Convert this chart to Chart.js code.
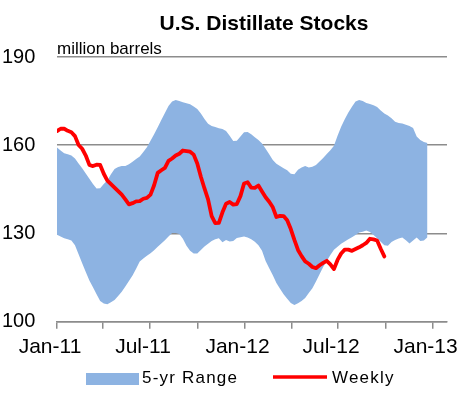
<!DOCTYPE html>
<html><head><meta charset="utf-8">
<script src="https://cdn.jsdelivr.net/npm/chart.js@4.4.0/dist/chart.umd.min.js"></script>
<style>html,body{margin:0;padding:0;background:#fff;}#wrap{width:467px;height:395px;}</style>
</head><body><div id="wrap"><canvas id="c" width="467" height="395"></canvas></div>
<script>
const chartTitle = 'U.S. Distillate Stocks';
const unitLabel = 'million barrels';
const seriesNames = ['5-yr Range', 'Weekly'];
const startDate = '2011-01-01';
const weekStep = 7;

const weeklyStocks = [
164.8,165.6,165.6,164.9,164.4,163.1,160.1,158.8,156.5,153.3,
152.9,153.4,153.3,150.3,148.0,146.8,145.6,144.4,143.2,141.6,
139.9,140.3,140.9,141.0,141.8,142.1,143.2,146.4,150.6,151.5,
152.3,154.7,155.5,156.5,157.1,158.2,158.0,157.8,156.8,153.8,
149.3,145.3,141.6,135.9,133.5,133.6,137.2,140.1,140.7,139.8,
140.0,142.7,147.0,147.4,145.6,145.5,146.3,144.3,142.3,140.8,
138.9,135.6,136.0,135.9,134.5,131.5,127.8,124.4,122.3,120.5,
119.7,118.6,118.2,119.2,120.0,120.7,119.5,117.9,121.0,123.2,
124.5,124.5,124.1,124.7,125.3,126.0,126.8,128.2,128.0,127.6,
124.8,122.2];

const rangeHigh = [
159.2,158.2,157.3,156.9,156.5,155.5,153.8,152.2,150.4,148.6,
146.8,145.3,145.4,146.8,148.0,150.1,151.9,152.6,152.9,152.9,
153.5,154.4,155.3,156.2,157.7,159.3,161.5,163.7,166.1,168.6,
171.0,173.3,174.9,175.4,175.0,174.6,174.3,173.9,173.2,172.3,
170.8,168.9,167.3,166.5,166.2,165.8,165.5,164.8,163.2,161.4,
161.5,163.0,164.4,164.5,163.7,162.7,161.8,160.6,158.8,156.9,
155.0,153.7,152.9,152.2,151.5,150.3,150.1,151.7,152.4,152.9,
152.4,152.7,153.3,154.5,155.7,157.0,158.3,159.8,163.2,166.3,
168.8,171.1,173.1,174.9,175.4,175.0,174.4,174.0,173.6,173.0,
171.8,170.8,170.1,169.2,168.0,167.6,167.4,167.0,166.5,165.9,
163.0,161.8,161.1,160.8];

const rangeLow = [
129.6,129.0,128.4,128.0,127.6,126.0,122.9,119.9,116.9,114.0,
111.7,109.3,107.0,106.2,105.9,106.6,107.4,108.7,110.2,112.0,
113.8,115.7,118.0,120.5,121.5,122.4,123.3,124.3,125.5,126.6,
127.7,129.0,130.2,130.2,129.8,128.2,125.8,124.1,123.2,123.2,
124.4,125.6,126.5,127.4,128.0,128.4,127.0,127.8,127.3,127.4,
128.5,128.7,129.0,128.6,128.0,127.2,126.0,124.1,120.6,118.2,
115.8,113.2,111.2,109.3,107.8,106.4,105.7,106.3,107.0,108.1,
109.8,111.4,113.7,116.1,118.6,120.6,122.7,124.5,125.5,126.5,
127.3,128.0,128.7,129.5,130.3,130.6,131.0,130.5,129.5,128.4,
127.2,126.0,125.8,127.1,127.8,128.3,128.6,127.7,126.6,127.6,
128.6,127.4,127.6,128.7];

const tickDates = ['2011-01-01','2011-04-01','2011-07-01','2011-10-01','2012-01-01','2012-04-01','2012-07-01','2012-10-01','2013-01-01'];
const tickLabels = ['Jan-11','','Jul-11','','Jan-12','','Jul-12','','Jan-13'];
const axisEndDate = '2013-01-29';
const yTicks = [100, 130, 160, 190];

const DAY = 86400000;
const dayOf = s => Math.round((Date.parse(s) - Date.parse(startDate)) / DAY);
const toPts = arr => arr.map((v, i) => ({x: i * weekStep, y: v}));
const tickDays = tickDates.map(dayOf);

const FONT = '"Liberation Sans", Arial, sans-serif';
const bandColor = '#8db3e2';
const lineColor = '#ff0000';
const gridColor = '#8c8c8c';

const headerPlugin = {
  id: 'header',
  afterDraw(chart) {
    const c = chart.ctx, a = chart.chartArea;
    c.save();
    c.fillStyle = '#000';
    c.font = 'bold 21px ' + FONT;
    c.textAlign = 'center';
    c.textBaseline = 'middle';
    c.fillText(chartTitle, 264, 24);
    c.font = '17px ' + FONT;
    c.textAlign = 'left';
    c.textBaseline = 'alphabetic';
    c.fillText(unitLabel, a.left, 53.5);

    // legend
    c.font = '17px ' + FONT;
    if ('letterSpacing' in c) c.letterSpacing = '1.2px';
    c.textBaseline = 'middle';
    c.fillStyle = bandColor;
    c.fillRect(86, 373, 53, 12);
    c.fillStyle = '#000';
    c.fillText(seriesNames[0], 142, 378);
    c.strokeStyle = lineColor;
    c.lineWidth = 3.5;
    c.beginPath();
    c.moveTo(273, 377);
    c.lineTo(327, 377);
    c.stroke();
    c.fillText(seriesNames[1], 332, 378);
    c.restore();
  }
};

new Chart(document.getElementById('c'), {
  type: 'line',
  data: {
    datasets: [
      {label: seriesNames[0], data: toPts(rangeHigh), fill: '+1', backgroundColor: bandColor, borderColor: bandColor, borderWidth: 0, pointRadius: 0, order: 2},
      {label: 'low', data: toPts(rangeLow), fill: false, borderWidth: 0, borderColor: bandColor, pointRadius: 0, order: 3},
      {label: seriesNames[1], data: toPts(weeklyStocks), fill: false, borderColor: lineColor, borderWidth: 3.8, pointRadius: 0, order: 1, borderJoinStyle: 'round', borderCapStyle: 'round'}
    ]
  },
  options: {
    responsive: false,
    animation: false,
    layout: {padding: {left: 2, right: 20, top: 57, bottom: 0}},
    plugins: {
      tooltip: {enabled: false},
      title: {display: false},
      legend: {display: false}
    },
    scales: {
      x: {
        type: 'linear',
        min: 0,
        max: dayOf(axisEndDate),
        afterBuildTicks: s => { s.ticks = tickDays.map(v => ({value: v})); },
        afterFit: s => { s.height = 73.3; s.paddingLeft = 0; s.paddingRight = 0; },
        ticks: {
          callback: (v, i) => tickLabels[i],
          autoSkip: false, maxRotation: 0, minRotation: 0,
          padding: 6, labelOffset: -7,
          color: '#000', font: {family: FONT, size: 21}
        },
        grid: {drawOnChartArea: false, tickLength: 7, color: gridColor, lineWidth: 1.5},
        border: {display: true, color: gridColor, width: 1.5}
      },
      y: {
        min: 100, max: 190,
        afterBuildTicks: s => { s.ticks = yTicks.map(v => ({value: v})); },
        afterFit: s => { s.width = 55; },
        ticks: {crossAlign: 'far', padding: 0, color: '#000', font: {family: FONT, size: 20}},
        grid: {drawTicks: false, color: gridColor, lineWidth: 1.5},
        border: {display: false}
      }
    }
  },
  plugins: [headerPlugin]
});
</script>
</body></html>
